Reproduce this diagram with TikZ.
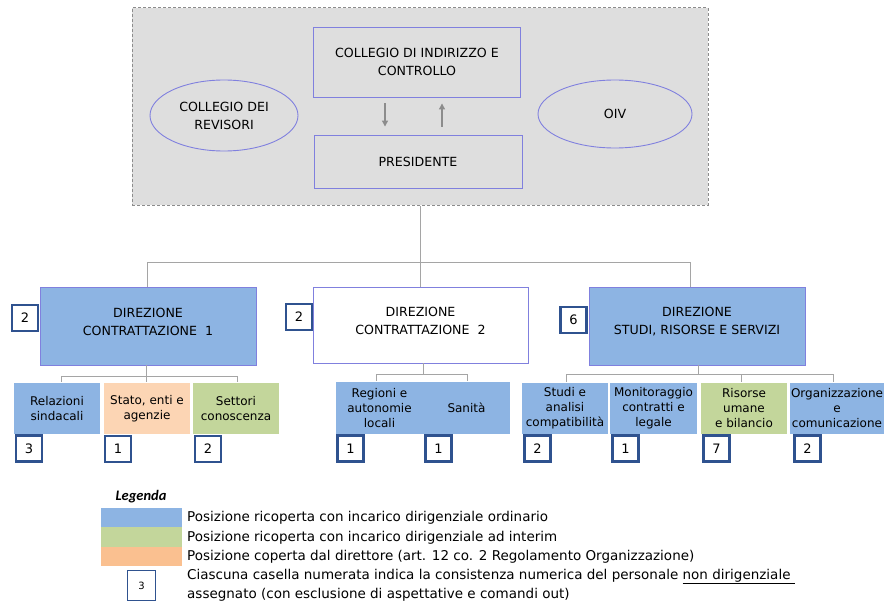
\documentclass[tikz,border=0pt]{standalone}
\usepackage{fontspec}
\setmainfont{DejaVu Sans}
\newfontfamily\legfont{Carlito}
\usetikzlibrary{shapes.geometric,arrows.meta}
\definecolor{bgray}{RGB}{222,222,222}
\definecolor{dgray}{RGB}{140,140,140}
\definecolor{pborder}{RGB}{128,128,222}
\definecolor{cblue}{RGB}{141,180,227}
\definecolor{cgreen}{RGB}{195,214,155}
\definecolor{cpeach}{RGB}{252,213,180}
\definecolor{lpeach}{RGB}{250,192,144}
\definecolor{nborder}{RGB}{47,82,143}
\definecolor{lgray}{RGB}{165,165,165}
\tikzset{
  every node/.style={font=\fontsize{12}{15}\selectfont, align=center, inner sep=0pt},
  bigtext/.style={font=\fontsize{12.6}{18}\selectfont},
  topbox/.style={draw=pborder, line width=0.9pt, minimum width=#1, bigtext},
  dirbox/.style={draw=pborder, line width=0.9pt, minimum width=216pt, minimum height=78pt},
  dirlabel/.style={bigtext},
  childbox/.style={minimum height=51pt, minimum width=#1},
  numbox/.style={draw=nborder, line width=2.2pt, fill=white, minimum width=26pt, minimum height=26pt, font=\fontsize{13}{15}\selectfont},
  conn/.style={draw=lgray, line width=1pt},
  arr/.style={draw=dgray, line width=1.2pt, -{Triangle[length=6pt,width=6pt]}},
  swatch/.style={minimum width=81pt, minimum height=19.5pt},
  legtext/.style={anchor=west, font=\fontsize{13.5}{16}\selectfont}
}
\begin{document}
\begin{tikzpicture}[x=1pt,y=-1pt]
\useasboundingbox[fill=white] (0,0) rectangle (885,604);
% top area
\node[draw=dgray, line width=1pt, dash pattern=on 3pt off 2pt, fill=bgray, minimum width=576pt, minimum height=197pt] (gray) at (420,106.5) {};
\node[topbox=207pt, minimum height=70pt] (cic) at (417,62) {COLLEGIO DI INDIRIZZO E\\CONTROLLO};
\node[topbox=208pt, minimum height=53pt] (pres) at (418,161.5) {PRESIDENTE};
\node[ellipse, draw=pborder, line width=0.9pt, minimum width=148pt, minimum height=71pt, bigtext] (rev) at (224,115.5) {COLLEGIO DEI\\REVISORI};
\node[ellipse, draw=pborder, line width=0.9pt, minimum width=154pt, minimum height=68pt, bigtext] (oiv) at (615,114) {OIV};
\draw[arr] ([xshift=-32pt,yshift=-6pt]cic.south) -- ([xshift=-33pt,yshift=8pt]pres.north);
\draw[arr] ([xshift=24pt,yshift=8pt]pres.north) -- ([xshift=25pt,yshift=-6pt]cic.south);
% directions
\node[dirbox, fill=cblue] (d1) at (148,326) {};
\node[dirbox, fill=white, minimum width=215pt, minimum height=76pt] (d2) at (420.5,325) {};
\node[dirbox, fill=cblue] (d3) at (697,326) {};
\node[dirlabel] (l1) at (148,322) {DIREZIONE\\CONTRATTAZIONE~~1};
\node[dirlabel] (l2) at (420.5,321) {DIREZIONE\\CONTRATTAZIONE~~2};
\node[dirlabel] (l3) at (697,322) {DIREZIONE\\STUDI, RISORSE E SERVIZI};
\node[numbox] (n1) at (25,318) {2};
\node[numbox] (n2) at (299,317) {2};
\node[numbox] (n3) at (573.5,320) {6};
% top connectors
\coordinate (bus) at (420,262);
\draw[conn] (gray.south) -- (bus);
\draw[conn] (bus) -| ([xshift=-1pt]d1.north);
\draw[conn] (bus) -| (d2.north);
\draw[conn] (bus) -| ([xshift=-7pt]d3.north);
% children of d1
\node[childbox=86pt, fill=cblue] (c11) at (57,408.5) {Relazioni\\sindacali};
\node[childbox=86pt, fill=cpeach] (c12) at (147,408.5) {Stato, enti e\\agenzie};
\node[childbox=86pt, fill=cgreen] (c13) at (236,408.5) {Settori\\conoscenza};
\node[numbox] (m11) at (29,448.5) {3};
\node[numbox] (m12) at (118,449) {1};
\node[numbox] (m13) at (208,449) {2};
\coordinate (b1) at (146,376);
\draw[conn] ([xshift=-2pt]d1.south) -- (b1);
\draw[conn] (b1) -| ([xshift=4pt,yshift=1pt]c11.north);
\draw[conn] (b1) -- ([xshift=-1pt,yshift=1pt]c12.north);
\draw[conn] (b1) -| ([xshift=1pt,yshift=1pt]c13.north);
% children of d2
\node[childbox=87pt, minimum height=52pt, fill=cblue] (c21) at (379.5,408) {Regioni e\\autonomie\\locali};
\node[childbox=87pt, minimum height=52pt, fill=cblue] (c22) at (466.5,408) {Sanità};
\node[numbox] (m21) at (350.5,448.5) {1};
\node[numbox] (m22) at (438.5,448.5) {1};
\coordinate (b2) at (423,374);
\draw[conn] ([xshift=2.5pt]d2.south) -- (b2);
\draw[conn] (b2) -| ([xshift=-3.5pt,yshift=1pt]c21.north);
\draw[conn] (b2) -| ([xshift=0.5pt,yshift=1pt]c22.north);
% children of d3
\node[childbox=86pt, fill=cblue] (c31) at (565,408.5) {Studi e\\analisi\\compatibilità};
\node[childbox=87pt, fill=cblue] (c32) at (653.5,408.5) {Monitoraggio\\contratti e\\legale};
\node[childbox=86pt, fill=cgreen] (c33) at (744,408.5) {Risorse\\umane\\e bilancio};
\node[childbox=94pt, fill=cblue] (c34) at (837,408.5) {Organizzazione\\e\\comunicazione};
\node[numbox] (m31) at (537.5,448.5) {2};
\node[numbox] (m32) at (625.5,448.5) {1};
\node[numbox] (m33) at (716.5,448.5) {7};
\node[numbox] (m34) at (807.5,448.5) {2};
\coordinate (b3) at (698,374);
\draw[conn] ([xshift=1pt]d3.south) -- (b3);
\draw[conn] (b3) -| ([xshift=1pt,yshift=1pt]c31.north);
\draw[conn] (b3) -| ([xshift=-3pt,yshift=1pt]c33.north);
\draw[conn] (b3) -| ([xshift=-4pt,yshift=1pt]c34.north);
% legend
\node[font=\legfont\bfseries\itshape\fontsize{14.5}{16}\selectfont] (leg) at (141,497) {Legenda};
\node[swatch, fill=cblue] (s1) at (141.5,517.5) {};
\node[swatch, fill=cgreen] (s2) at (141.5,537) {};
\node[swatch, fill=lpeach] (s3) at (141.5,556.5) {};
\node[draw=nborder, line width=1.6pt, fill=white, minimum width=28pt, minimum height=30pt, font=\fontsize{10}{12}\selectfont] (s4) at (141.5,585.5) {3};
\node[legtext] (t1) at (187,518) {Posizione ricoperta con incarico dirigenziale ordinario};
\node[legtext] (t2) at (187,537.5) {Posizione ricoperta con incarico dirigenziale ad interim};
\node[legtext] (t3) at (187,557) {Posizione coperta dal direttore (art. 12 co. 2 Regolamento Organizzazione)};
\node[legtext] (t4) at (187,576.5) {Ciascuna casella numerata indica la consistenza numerica del personale \underline{non dirigenziale\ }};
\node[legtext] (t5) at (187,594.5) {assegnato (con esclusione di aspettative e comandi out)};
\end{tikzpicture}
\end{document}
